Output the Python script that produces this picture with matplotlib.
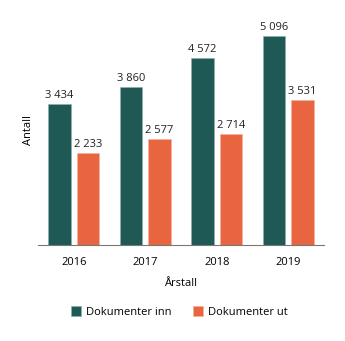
import numpy as np
import matplotlib.pyplot as plt

plt.rcParams["font.family"] = ["Open Sans", "DejaVu Sans"]

years = ["2016", "2017", "2018", "2019"]
docs_in = [3434, 3860, 4572, 5096]
docs_out = [2233, 2577, 2714, 3531]
series_names = ["Dokumenter inn", "Dokumenter ut"]

teal = "#1f5955"
orange = "#e8653f"

fig = plt.figure(figsize=(3.45, 3.41), dpi=100)
ax = fig.add_axes([0.110, 0.2824, 0.829, 0.6724])

x = np.arange(len(years))
w = 0.315
b1 = ax.bar(x - 0.2, docs_in, w, color=teal, edgecolor="#8fb0ad", linewidth=0.4,
            label=series_names[0])
b2 = ax.bar(x + 0.2, docs_out, w, color=orange, edgecolor="#f3b09c", linewidth=0.4,
            label=series_names[1])

# value labels above each bar, space as thousands separator
for bars, vals in ((b1, docs_in), (b2, docs_out)):
    for bar, v in zip(bars, vals):
        ax.text(bar.get_x() + bar.get_width() / 2, v + 70,
                f"{v:,}".replace(",", " "), ha="center", va="bottom",
                fontsize=8, color="#222222")

ax.set_xlim(-0.5, 3.5)
ax.set_ylim(0, 5600)
ax.set_xticks(x)
ax.set_xticklabels(years, fontsize=8)
ax.tick_params(axis="x", length=0, pad=9)
ax.set_yticks([])
for side in ("top", "right", "left"):
    ax.spines[side].set_visible(False)
ax.spines["bottom"].set_color("#777777")
ax.spines["bottom"].set_linewidth(0.8)

ax.set_xlabel("Årstall", fontsize=8, labelpad=7)
ax.set_ylabel("Antall", fontsize=8, labelpad=3)

fig.legend(handles=[b1, b2], loc="center", bbox_to_anchor=(0.52, 0.085),
           ncol=2, frameon=False, fontsize=8, handlelength=0.9,
           handleheight=0.9, columnspacing=1.9, handletextpad=0.5)

fig.savefig("out.png", dpi=100)
